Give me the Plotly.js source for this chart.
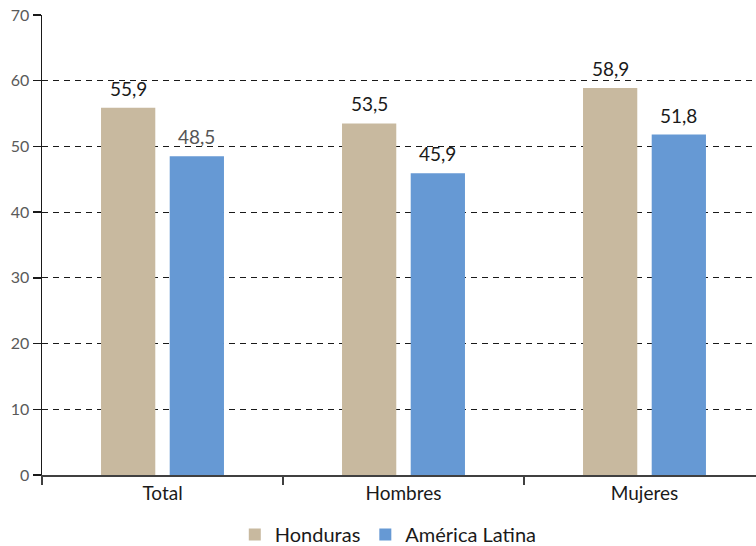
<!DOCTYPE html>
<html>
<head>
<meta charset="utf-8">
<script src="https://cdn.plot.ly/plotly-3.0.1.min.js"></script>
<style>html,body{margin:0;padding:0;background:#fff;}#chart{width:756px;height:546px;}</style>
</head>
<body>
<div id="chart"></div>
<script>
var categories = ["Total", "Hombres", "Mujeres"];
var seriesNames = ["Honduras", "América Latina"];
var honduras = [55.9, 53.5, 58.9];
var americaLatina = [48.5, 45.9, 51.8];
var yTicks = [0, 10, 20, 30, 40, 50, 60, 70];

var font = "Lato, 'Open Sans', sans-serif";
var colors = ["#C8B99F", "#6699D4"];
var labelColors = [["#1a1a1a", "#1a1a1a", "#1a1a1a"], ["#555555", "#1a1a1a", "#1a1a1a"]];
var BARGAP = 0.43;
var seriesData = [honduras, americaLatina];

var traces = seriesData.map(function (vals, i) {
  return {
    type: "bar", name: seriesNames[i], x: categories, y: vals,
    marker: {color: colors[i]}
  };
});

// value labels placed over each bar's centre (offset derived from bargap)
var slot = (1 - BARGAP) / seriesData.length;
var annotations = [];
seriesData.forEach(function (vals, i) {
  var off = -(1 - BARGAP) / 2 + slot * (i + 0.5);
  vals.forEach(function (v, j) {
    annotations.push({
      xref: "x", yref: "y", x: j + off, y: v,
      text: v.toFixed(1).replace(".", ","),
      showarrow: false, yanchor: "bottom", yshift: 6,
      font: {family: font, size: 19, color: labelColors[i][j]}
    });
  });
});

var layout = {
  width: 756, height: 546,
  margin: {l: 42, r: 0, t: 15, b: 71, autoexpand: false},
  paper_bgcolor: "#fff", plot_bgcolor: "#fff",
  separators: ",.",
  barmode: "group", bargap: BARGAP, bargroupgap: 0.21,
  showlegend: true,
  annotations: annotations,
  legend: {
    orientation: "h", x: 0.485, xanchor: "center",
    yref: "container", y: 0.021, yanchor: "middle",
    font: {family: font, size: 20, color: "#1a1a1a"},
    itemwidth: 30, traceorder: "normal"
  },
  xaxis: {
    type: "category", range: [-0.5, 2.4627],
    showline: true, linecolor: "#404040", linewidth: 2,
    ticks: "outside", tickson: "boundaries", ticklen: 8, tickcolor: "#404040", tickwidth: 1.5,
    tickfont: {family: font, size: 19, color: "#1a1a1a"},
    showgrid: false, zeroline: false, fixedrange: true
  },
  yaxis: {
    range: [0, 70], tickvals: yTicks, ticktext: yTicks.map(String),
    showline: true, linecolor: "#1a1a1a", linewidth: 1.5,
    ticks: "outside", ticklen: 8, tickcolor: "#1a1a1a", tickwidth: 1.5,
    tickfont: {family: font, size: 16, color: "#5a5a5a"},
    showgrid: true, gridcolor: "#1a1a1a", gridwidth: 1, griddash: "6px,5px",
    zeroline: false, fixedrange: true
  }
};

Plotly.newPlot("chart", traces, layout, {displayModeBar: false, staticPlot: true});
</script>
</body>
</html>
